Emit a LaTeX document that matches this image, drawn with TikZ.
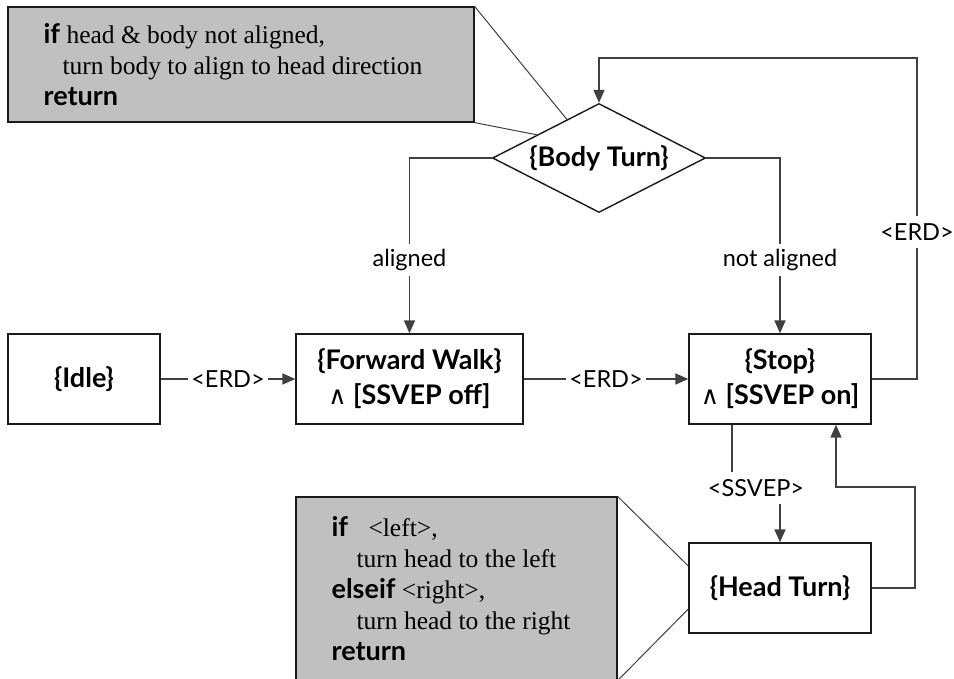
\documentclass[tikz,border=0pt]{standalone}
\usepackage{fontspec}
\setmainfont{Liberation Serif}
\newfontfamily\diagsans{Lato}
\newfontfamily\symfont{DejaVu Sans}
\usetikzlibrary{arrows.meta,shapes.geometric,calc}

\definecolor{wire}{HTML}{404040}
\definecolor{notefill}{HTML}{C0C0C0}
\definecolor{edgeblack}{HTML}{1A1A1A}

\tikzset{
  statebox/.style={draw=edgeblack, line width=1.4pt, fill=white, inner sep=0pt,
    minimum height=90pt, align=center,
    font=\diagsans\bfseries\fontsize{27}{35}\selectfont},
  decision/.style={diamond, draw=edgeblack, line width=1.4pt, fill=white, inner sep=0pt,
    shape aspect=2, minimum width=213pt, minimum height=109pt,
    font=\diagsans\bfseries\fontsize{27}{30}\selectfont},
  notebox/.style={draw=edgeblack, line width=1.2pt, fill=notefill, inner sep=0pt},
  notetext/.style={anchor=west, inner sep=0pt, align=left,
    font=\fontsize{25.5}{31}\selectfont},
  flow/.style={draw=wire, line width=1.7pt, -{Triangle[length=13pt,width=11pt]}},
  tag/.style={fill=white, inner xsep=3pt, inner ysep=0pt, minimum height=32pt,
    font=\diagsans\fontsize{23.5}{26}\selectfont},
  pointer/.style={draw=wire, line width=1pt},
}
\newcommand{\kw}[1]{{\diagsans\bfseries\fontsize{27}{31}\selectfont #1}}
\newcommand{\andsym}{{\symfont\mdseries\fontsize{25}{25}\selectfont ∧}}

\begin{document}
\begin{tikzpicture}[x=1pt, y=-1pt]
  \path[use as bounding box, clip] (0,0) rectangle (954,678);

  % pseudo-code notes
  \node[notebox, minimum width=466pt, minimum height=115pt] (note1) at (241,64.5) {};
  \node[notetext] (note1txt) at ($(note1.west)+(36,0)$)
    {\kw{if} head \& body not aligned,\\
     \hspace*{19pt}turn body to align to head direction\\
     \kw{return}};

  \node[notebox, minimum width=321pt, minimum height=183pt] (note2) at (456.5,588.5) {};
  \node[notetext] (note2txt) at ($(note2.west)+(36,0)$)
    {\kw{if}\hspace{14pt} <left>,\\
     \hspace*{25pt}turn head to the left\\
     \kw{elseif} <right>,\\
     \hspace*{25pt}turn head to the right\\
     \kw{return}};

  % states
  \node[decision] (bt) at (599,158) {\{Body Turn\}};
  \node[statebox, minimum width=152pt] (idle) at (84,379) {\{Idle\}};
  \node[statebox, minimum width=227pt] (fw) at (409.5,379)
    {\{Forward Walk\}\\ \andsym\ [SSVEP off]};
  \node[statebox, minimum width=182pt] (stop) at (780,379)
    {\{Stop\}\\ \andsym\ [SSVEP on]};
  \node[statebox, minimum width=182pt] (ht) at (780,588) {\{Head Turn\}};

  % note pointers
  \draw[pointer] (note1.north east) -- ($(bt.west)!0.7!(bt.north)$);
  \draw[pointer] (note1.south east) -- ($(bt.west)!0.42!(bt.north)$);
  \draw[pointer] (note2.north east) -- ($(ht.west)+(0,-22)$);
  \draw[pointer] (note2.south east) -- ($(ht.west)+(0,21)$);

  % helper coordinates for routed connectors
  \coordinate (loopcorner) at (917,58);
  \coordinate (ssvepx) at (732,0);
  \coordinate (returnx) at (836,0);
  \coordinate (returncorner) at (915,487);

  % transitions
  \draw[flow] (idle) -- node[tag] (erd1) {<ERD>} (fw);
  \draw[flow] (fw) -- node[tag] (erd2) {<ERD>} (stop);
  \draw[flow] (bt.west) -| node[tag, pos=0.79] (al) {aligned} (fw.north);
  \draw[flow] (bt.east) -| node[tag, pos=0.79] (nal) {not aligned} (stop.north);
  \draw[flow] (stop.east) -| node[tag, pos=0.729] (erd3) {<ERD>} (loopcorner) -| (bt.north);
  \draw[flow] (stop.south -| ssvepx) -- ++(0,63) -| node[tag, pos=0.25] (ssv) {<SSVEP>} (ht.north);
  \draw[flow] (ht.east) -| (returncorner) -| (stop.south -| returnx);
\end{tikzpicture}
\end{document}
